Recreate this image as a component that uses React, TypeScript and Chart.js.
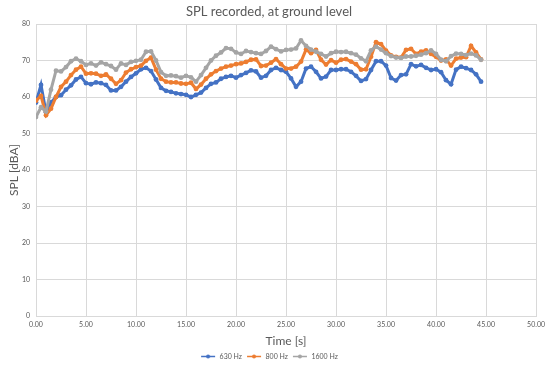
import { useEffect, useRef } from "react";
import { Chart, registerables } from "chart.js";

Chart.register(...registerables);

const times = [
  0, 0.5, 1, 1.5, 2, 2.5, 3, 3.5, 4, 4.5, 5, 5.5, 6, 6.5, 7, 7.5, 8, 8.5, 9, 9.5,
  10, 10.5, 11, 11.5, 12, 12.5, 13, 13.5, 14, 14.5, 15, 15.5, 16, 16.5, 17, 17.5, 18, 18.5, 19, 19.5,
  20, 20.5, 21, 21.5, 22, 22.5, 23, 23.5, 24, 24.5, 25, 25.5, 26, 26.5, 27, 27.5, 28, 28.5, 29, 29.5,
  30, 30.5, 31, 31.5, 32, 32.5, 33, 33.5, 34, 34.5, 35, 35.5, 36, 36.5, 37, 37.5, 38, 38.5, 39, 39.5,
  40, 40.5, 41, 41.5, 42, 42.5, 43, 43.5, 44, 44.5,
];

const spl630 = [
  58.5, 63.3, 55.8, 58.5, 60.0, 60.5, 62.0, 63.2, 64.8, 65.5, 63.8, 63.5, 64.0, 63.8, 63.3, 61.8, 61.8, 62.8, 64.2, 65.5,
  66.5, 67.6, 68.0, 67.1, 64.8, 62.5, 61.7, 61.4, 61.0, 60.8, 60.6, 60.0, 60.6, 61.2, 62.5, 63.6, 64.0, 65.0, 65.5, 65.8,
  65.3, 66.0, 66.6, 67.3, 67.0, 65.3, 65.8, 67.4, 68.0, 67.4, 66.9, 65.1, 62.8, 64.2, 67.8, 68.3, 66.9, 65.1, 65.6, 67.4,
  67.4, 67.6, 67.6, 66.9, 65.8, 64.4, 64.9, 67.4, 69.8, 69.8, 68.6, 65.2, 64.5, 66.0, 66.2, 69.0, 68.4, 68.8, 68.0, 67.4,
  67.6, 66.8, 64.6, 63.5, 67.5, 68.3, 67.9, 67.4, 66.2, 64.2,
];

const spl800 = [
  59.0, 60.3, 55.0, 56.8, 60.0, 62.8, 64.2, 66.0, 67.5, 68.3, 66.4, 66.5, 66.4, 65.8, 66.2, 65.0, 63.6, 64.6, 66.7, 67.6,
  68.2, 68.6, 69.9, 70.8, 67.5, 65.0, 64.2, 64.0, 64.0, 63.7, 63.6, 63.9, 62.2, 63.4, 65.0, 66.2, 67.1, 67.8, 68.3, 68.6,
  69.0, 69.2, 69.6, 70.2, 70.3, 68.5, 68.6, 69.4, 70.4, 69.0, 67.8, 67.8, 68.3, 69.7, 73.0, 72.0, 72.9, 70.2, 68.9, 70.1,
  69.4, 70.2, 70.4, 69.7, 69.0, 67.5, 67.6, 71.0, 75.0, 74.5, 72.7, 71.4, 71.0, 70.8, 72.9, 73.2, 71.8, 72.4, 72.8, 71.8,
  71.0, 70.0, 70.3, 68.6, 70.5, 70.8, 70.9, 74.0, 72.2, 70.3,
];

const spl1600 = [
  54.5, 57.2, 56.0, 62.0, 67.2, 67.0, 68.2, 69.8, 70.5, 69.8, 68.8, 69.2, 68.6, 69.5, 69.0, 68.5, 67.5, 69.2, 68.8, 69.6,
  69.9, 70.2, 72.4, 72.5, 70.0, 66.8, 65.8, 65.9, 65.7, 65.3, 65.8, 65.4, 64.2, 66.0, 68.0, 70.0, 71.3, 72.2, 73.4, 73.2,
  72.2, 71.8, 72.6, 72.3, 72.0, 71.8, 72.6, 73.8, 73.1, 72.5, 72.9, 73.0, 73.3, 75.5, 74.0, 73.0, 72.4, 71.8, 71.1, 72.0,
  72.4, 72.3, 72.4, 72.0, 71.6, 70.6, 69.8, 72.8, 73.8, 73.0, 72.0, 71.2, 70.8, 70.7, 71.1, 71.1, 71.3, 71.6, 72.0, 72.8,
  71.8, 70.2, 69.8, 71.2, 71.9, 71.8, 71.5, 71.9, 71.4, 70.2,
];

const seriesNames = ["630 Hz", "800 Hz", "1600 Hz"];
const seriesColors = ["#4472C4", "#ED7D31", "#A5A5A5"];
const chartTitle = "SPL recorded, at ground level";
const xTitle = "Time [s]";
const yTitle = "SPL [dBA]";

function legendIcon(color: string) {
  const c = document.createElement("canvas");
  c.width = 16;
  c.height = 7;
  const g = c.getContext("2d")!;
  g.strokeStyle = color;
  g.lineWidth = 1.5;
  g.beginPath();
  g.moveTo(1, 3.5);
  g.lineTo(15, 3.5);
  g.stroke();
  g.fillStyle = color;
  g.beginPath();
  g.arc(8, 3.5, 2, 0, Math.PI * 2);
  g.fill();
  return c;
}

export default function App() {
  const ref = useRef<HTMLCanvasElement | null>(null);

  useEffect(() => {
    document.body.style.margin = "0";
    Chart.defaults.font.family = "Lato, 'Noto Sans', sans-serif";
    const all = [spl630, spl800, spl1600];
    const datasets = all.map((vals, i) => ({
      label: seriesNames[i],
      data: vals.map((v, j) => ({ x: times[j], y: v })),
      borderColor: seriesColors[i],
      backgroundColor: seriesColors[i],
      borderWidth: 3,
      pointRadius: 2.4,
      pointBorderWidth: 0,
      pointHoverRadius: 2.4,
      showLine: true,
      order: 2 - i,
    }));
    const icons = seriesColors.map(legendIcon);
    const chart = new Chart(ref.current!, {
      type: "scatter",
      data: { datasets },
      options: {
        animation: false,
        responsive: false,
        layout: { padding: { top: 0, left: 0, right: 12, bottom: -2 } },
        plugins: {
          title: {
            display: true,
            text: chartTitle,
            color: "#595959",
            font: { size: 13, weight: "normal" },
            padding: { top: 4, bottom: 4.4 },
          },
          legend: {
            position: "bottom",
            labels: {
              usePointStyle: true,
              pointStyleWidth: 16,
              padding: 4,
              color: "#595959",
              font: { size: 7 },
              generateLabels: () =>
                seriesNames.map((n, i) => ({
                  text: n,
                  fillStyle: seriesColors[i],
                  strokeStyle: seriesColors[i],
                  lineWidth: 0,
                  pointStyle: icons[i],
                  datasetIndex: i,
                  hidden: false,
                  fontColor: "#595959",
                })),
            },
          },
          tooltip: { enabled: false },
        },
        scales: {
          x: {
            type: "linear",
            min: 0,
            max: 50,
            ticks: {
              stepSize: 5,
              callback: (v: any) => Number(v).toFixed(2),
              color: "#595959",
              font: { size: 7 },
              padding: 5,
              maxRotation: 0,
            },
            grid: { color: "#D9D9D9", drawTicks: false },
            border: { color: "#D9D9D9" },
            title: {
              display: true,
              text: xTitle,
              color: "#595959",
              font: { size: 12 },
              padding: { top: 0, bottom: 1 },
            },
            afterFit: (s: any) => {
              s.height = 33;
            },
          },
          y: {
            min: 0,
            max: 80,
            ticks: {
              stepSize: 10,
              color: "#595959",
              font: { size: 7 },
              padding: 6,
            },
            grid: { color: "#D9D9D9", drawTicks: false },
            border: { color: "#D9D9D9" },
            title: {
              display: true,
              text: yTitle,
              color: "#595959",
              font: { size: 12 },
              padding: { top: 7, bottom: 0 },
            },
            afterFit: (s: any) => {
              s.width = 36;
            },
          },
        },
      },
    });
    return () => chart.destroy();
  }, []);

  return (
    <div style={{ width: 550, height: 368 }}>
      <canvas ref={ref} width={550} height={368} />
    </div>
  );
}
